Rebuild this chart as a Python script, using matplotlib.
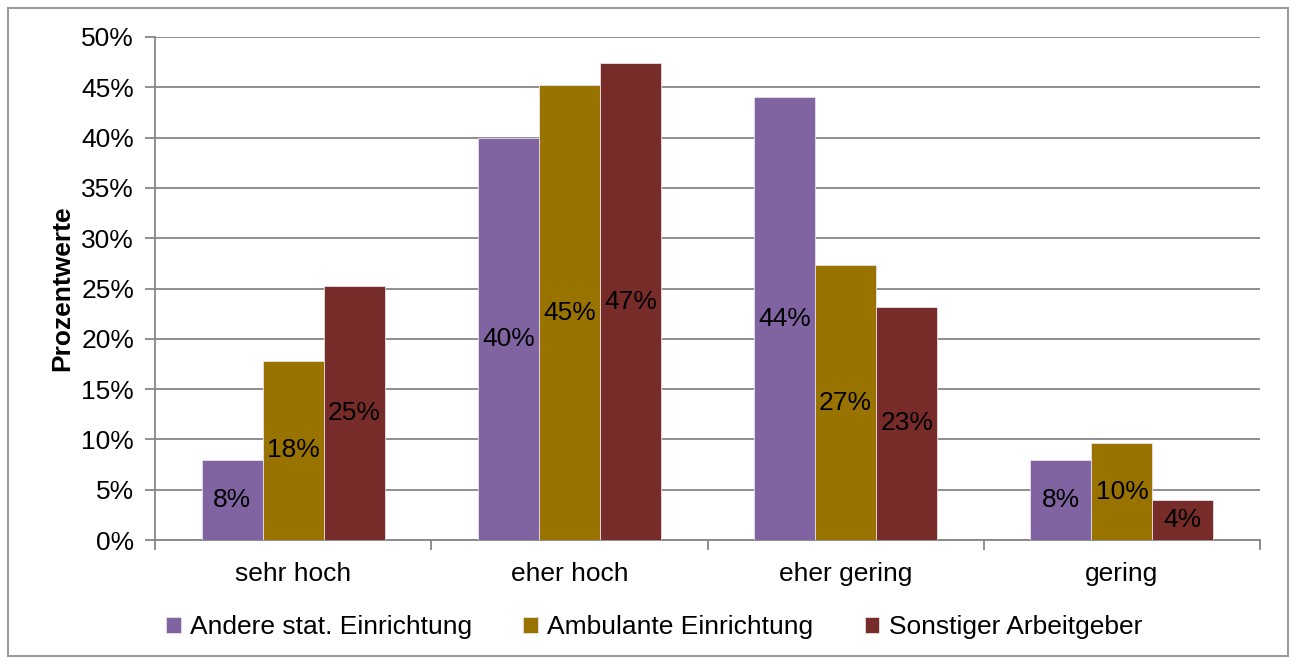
import numpy as np
import matplotlib.pyplot as plt
from matplotlib.patches import Rectangle

plt.rcParams["font.family"] = ["Liberation Sans", "DejaVu Sans"]

categories = ["sehr hoch", "eher hoch", "eher gering", "gering"]
series_names = ["Andere stat. Einrichtung", "Ambulante Einrichtung", "Sonstiger Arbeitgeber"]
andere = [8.0, 40.0, 44.0, 8.0]
ambulant = [17.8, 45.2, 27.3, 9.6]
sonstige = [25.2, 47.4, 23.2, 4.0]
colors = ["#8064A2", "#997300", "#772C2A"]

fs = 19

fig = plt.figure(figsize=(12.94, 6.59), dpi=100)
ax = fig.add_axes([155 / 1294, 1 - 540 / 659, 1105 / 1294, 503 / 659])

# light frame around the whole chart
fig.patches.append(Rectangle((8 / 1294, 3 / 659), 1280 / 1294, 648 / 659,
                             transform=fig.transFigure, fill=False,
                             edgecolor="#9a9a9a", linewidth=1.5))

x = np.arange(len(categories))
width = 0.221
for k, (vals, name) in enumerate(zip([andere, ambulant, sonstige], series_names)):
    pos = x + (k - 1) * width
    bars = ax.bar(pos, vals, width, color=colors[k], edgecolor="#e8e0e8",
                  linewidth=0.6, label=name, zorder=3)
    for b, v in zip(bars, vals):
        ax.text(b.get_x() + b.get_width() / 2, v / 2, f"{v:.0f}%",
                ha="center", va="center", fontsize=fs, color="black", zorder=4)

ax.set_xlim(-0.5, 3.5)
ax.set_ylim(0, 50)
ax.set_yticks(np.arange(0, 51, 5))
ax.set_yticklabels([f"{t}%" for t in range(0, 51, 5)], fontsize=fs)
ax.yaxis.grid(True, color="#868686", linewidth=1.3, zorder=0)
ax.set_axisbelow(True)

ax.set_xticks(x)
ax.set_xticklabels(categories, fontsize=fs)
ax.tick_params(axis="x", length=0, pad=16)
ax.set_xticks(np.arange(-0.5, 4, 1), minor=True)
ax.tick_params(axis="x", which="minor", length=7, color="#868686", width=1.3)
ax.tick_params(axis="y", length=7, color="#868686", width=1.3, pad=8)

for side in ["top", "right"]:
    ax.spines[side].set_visible(False)
for side in ["left", "bottom"]:
    ax.spines[side].set_color("#868686")
    ax.spines[side].set_linewidth(1.3)

ax.set_ylabel("Prozentwerte", fontsize=fs, fontweight="bold", labelpad=5)

fig.legend(loc="center", bbox_to_anchor=(0.5054, 1 - 627 / 659), ncol=3,
           frameon=False, fontsize=fs, handlelength=0.55, handleheight=0.55,
           handletextpad=0.35, columnspacing=1.95)

fig.savefig("out.png", dpi=100)
